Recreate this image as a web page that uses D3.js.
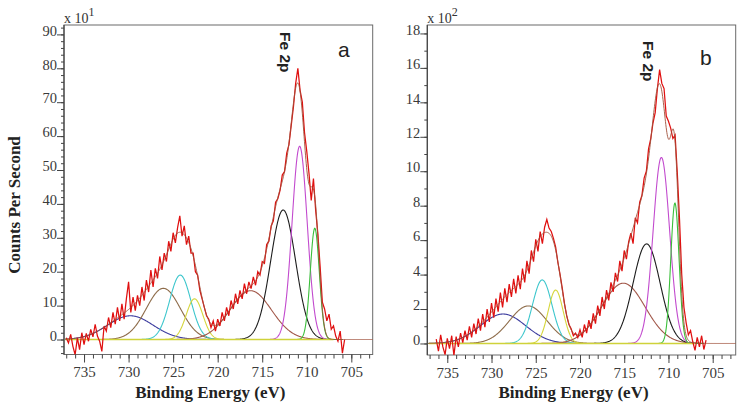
<!DOCTYPE html>
<html><head><meta charset="utf-8">
<script src="https://cdn.jsdelivr.net/npm/d3@7"></script>
<style>body{margin:0;background:#fff}</style>
</head><body>
<svg id="c" width="743" height="409" xmlns="http://www.w3.org/2000/svg"></svg>
<script>
// ---------- data ----------
const xTickLabels = [735, 730, 725, 720, 715, 710, 705];
const yTicksA = [0, 10, 20, 30, 40, 50, 60, 70, 80, 90];
const yTicksB = [0, 2, 4, 6, 8, 10, 12, 14, 16, 18];

// fitted components: blue, brown, cyan, yellow, satellite brown, black, magenta, green
const compColors = ["#3b3b9e", "#8e6c4a", "#3cc6cc", "#d6d63c", "#a2584a", "#1c1c1c", "#c24ace", "#3abf3a"];
const centersA = [729.8, 726.1, 724.2, 722.6, 716.3, 712.65, 710.8, 709.1];
const heightsA = [7.0, 15.1, 19.0, 12.0, 14.4, 38.2, 57.0, 32.8];
const fwhmA    = [6.0, 4.5, 2.8, 2.2, 5.5, 3.3, 2.0, 1.2];
const centersB = [728.7, 725.85, 724.27, 722.75, 715.1, 712.47, 710.8, 709.27];
const heightsB = [1.71, 2.18, 3.69, 3.1, 3.5, 5.78, 10.8, 8.15];
const fwhmB    = [6.0, 5.0, 2.6, 2.0, 5.8, 3.6, 2.2, 1.1];

// raw spectra (counts, in the axis multiplier units), 0.25 eV apart, starting energies below
const rawStartA = 737.0, rawStartB = 736.25, rawStep = 0.25;
const rawA = [0.5, -1.0, 1.5, -2.0, -4.5, 0.5, -3.0, 2.0, -1.5, 1.8, -0.5, 3.0, 0.8, 4.5, 1.0, -0.5, -3.5,
  4.0, 2.5, 6.5, 3.5, 8.0, 4.5, 9.5, 5.5, 10.5, 6.0, 12.0, 17.0, 8.0, 12.5, 8.5, 13.0, 10.0, 15.5, 11.5, 17.5,
  14.0, 20.5, 15.5, 21.0, 18.0, 24.5, 20.5, 25.5, 23.0, 29.0, 26.0, 31.5, 28.5, 33.0, 36.5, 30.5, 33.5, 28.0,
  30.5, 25.5, 25.5, 20.0, 19.0, 14.5, 12.0, 9.5, 7.0, 6.0, 3.5, 5.5, 2.5, 6.0, 4.0, 8.0, 5.5, 9.5, 7.0, 11.5,
  9.0, 13.5, 10.5, 14.5, 12.0, 16.5, 13.5, 17.0, 15.0, 18.5, 16.0, 20.0, 19.0, 23.0, 22.5, 28.0, 29.0, 33.5,
  35.0, 40.5, 41.5, 44.0, 48.5, 49.5, 55.0, 57.5, 63.0, 68.5, 75.5, 80.0, 73.5, 70.0, 61.0, 55.5, 49.0, 41.0,
  47.5, 38.0, 31.0, 21.5, 11.0, 9.0, 5.5, 7.5, 3.0, 4.0, 1.0, -0.5, 2.5, -4.0, 0.0];
const rawB = [0.25, -0.45, 0.5, -0.2, -0.65, 0.3, -0.3, 0.45, -0.7, 0.4, -0.2, 0.6, 0.05, 0.75, 0.2, 1.0,
  0.35, 1.15, 0.55, 1.45, 0.75, 1.7, 0.95, 2.0, 1.25, 2.35, 1.5, 2.6, 1.85, 2.95, 2.1, 3.2, 2.4, 3.45, 2.7, 3.75,
  2.9, 3.95, 3.15, 4.35, 3.55, 4.8, 4.05, 5.4, 4.75, 6.05, 5.35, 6.5, 5.8, 6.75, 7.2, 6.7, 6.5, 6.1, 5.6, 4.7, 4.0,
  3.2, 2.3, 1.6, 1.1, 0.85, 0.45, 0.6, 0.35, 0.8, 0.35, 1.1, 0.6, 1.35, 0.85, 1.75, 1.15, 2.2, 1.6, 2.7, 2.0,
  3.1, 2.5, 3.55, 3.0, 4.1, 3.6, 4.8, 4.2, 5.4, 4.9, 5.9, 6.4, 5.8, 7.3, 7.0, 8.2, 8.6, 9.6, 10.0, 11.3,
  11.9, 12.8, 13.4, 14.8, 15.9, 15.1, 14.8, 13.2, 12.9, 12.5, 11.9, 12.1, 9.9, 7.2, 4.0, 2.1, 1.2, 0.5, 0.75,
  0.1, -0.4, 0.35, -0.2, 0.45, -0.35, 0.2];

// ---------- drawing ----------
const svg = d3.select("#c");
const serif = "'Liberation Serif','Times New Roman',serif";
const sans = "'Liberation Sans',Arial,sans-serif";

function gauss(e, c, h, w) {
  const s = w / 2.3548;
  return h * Math.exp(-((e - c) * (e - c)) / (2 * s * s));
}

function panel(p) {
  const x = d3.scaleLinear().domain(p.xDom).range([p.x0, p.x1]);
  const y = d3.scaleLinear().domain(p.yDom).range([p.y1, p.y0]);
  const g = svg.append("g");
  const clipId = "clip" + p.id;
  g.append("clipPath").attr("id", clipId).append("rect")
    .attr("x", p.x0).attr("y", p.y0).attr("width", p.x1 - p.x0).attr("height", p.y1 - p.y0);

  // frame
  g.append("rect").attr("x", p.x0).attr("y", p.y0).attr("width", p.x1 - p.x0).attr("height", p.y1 - p.y0)
    .attr("fill", "none").attr("stroke", "#6a6a6a").attr("stroke-width", 1);

  const plot = g.append("g").attr("clip-path", `url(#${clipId})`);
  const line = d3.line().x(d => x(d[0])).y(d => y(d[1]));

  const gridC = d3.range(737.1, 705.99, -0.04);
  p.centers.forEach((c, i) => {
    const pts = gridC.map(e => [e, gauss(e, c, p.heights[i], p.fwhm[i])]);
    plot.append("path").attr("d", line(pts)).attr("fill", "none")
      .attr("stroke", compColors[i]).attr("stroke-width", 1.1);
  });
  // baseline
  plot.append("path").attr("d", line([[737.1, 0], [707.0, 0]])).attr("fill", "none")
    .attr("stroke", "#cfd23a").attr("stroke-width", 1.4);
  // raw data
  const rawPts = p.raw.map((v, i) => [p.rawStart - i * rawStep, v]);
  plot.append("path").attr("d", line(rawPts)).attr("fill", "none")
    .attr("stroke", "#e01010").attr("stroke-width", 1.25);
  // envelope (sum of components)
  const gridE = d3.range(737.1, p.xDom[1] - 0.05, -0.04);
  const env = gridE.map(e => [e, d3.sum(p.centers, (c, i) => gauss(e, c, p.heights[i], p.fwhm[i]))]);
  plot.append("path").attr("d", line(env)).attr("fill", "none")
    .attr("stroke", "#a0503a").attr("stroke-width", 1.0).attr("opacity", 0.9);

  // x axis
  const xMinor = d3.axisBottom(x).tickValues(d3.range(703, 738, 1)).tickSize(4).tickSizeOuter(0).tickFormat("");
  const xMajor = d3.axisBottom(x).tickValues(xTickLabels).tickSize(8).tickSizeOuter(0).tickFormat(d3.format("d"));
  const gx1 = g.append("g").attr("transform", `translate(0,${p.y1})`).call(xMinor);
  const gx2 = g.append("g").attr("transform", `translate(0,${p.y1})`).call(xMajor);
  [gx1, gx2].forEach(a => { a.select(".domain").remove(); a.selectAll("line").attr("stroke", "#444"); });
  gx2.selectAll("text").attr("font-family", serif).attr("font-size", 15).attr("fill", "#3a3a3a")
    .attr("y", 12).attr("dy", "0.71em");

  // y axis
  const yMinor = d3.axisLeft(y).tickValues(p.yMinor).tickSize(3).tickSizeOuter(0).tickFormat("");
  const yMajor = d3.axisLeft(y).tickValues(p.yTicks).tickSize(7).tickSizeOuter(0).tickFormat(d3.format("d"));
  const gy1 = g.append("g").attr("transform", `translate(${p.x0},0)`).call(yMinor);
  const gy2 = g.append("g").attr("transform", `translate(${p.x0},0)`).call(yMajor);
  [gy1, gy2].forEach(a => { a.select(".domain").remove(); a.selectAll("line").attr("stroke", "#444"); });
  gy2.selectAll("text").attr("font-family", serif).attr("font-size", 14.5).attr("fill", "#3a3a3a")
    .attr("x", -7).attr("dy", "0.05em");
  g.append("line").attr("x1", p.x0).attr("x2", p.x0).attr("y1", p.y0).attr("y2", p.y1)
    .attr("stroke", "#444").attr("stroke-width", 1.2);

  // multiplier
  const m = g.append("text").attr("x", p.x0).attr("y", p.y0 - 2.5)
    .attr("font-family", serif).attr("font-size", 14).attr("fill", "#333");
  m.append("tspan").text("x 10");
  m.append("tspan").attr("dy", -7).attr("font-size", 12).text(p.expo);

  // x title
  g.append("text").attr("x", (p.x0 + p.x1) / 2 - 8).attr("y", 398)
    .attr("text-anchor", "middle").attr("font-family", serif).attr("font-weight", "bold")
    .attr("font-size", 17).attr("fill", "#222").text("Binding Energy (eV)");

  // Fe 2p annotation
  g.append("text").attr("transform", `translate(${p.feX},${p.feY}) rotate(90)`)
    .attr("font-family", sans).attr("font-weight", "bold").attr("font-size", 15.5).attr("fill", "#222")
    .text("Fe 2p");
  // panel letter
  g.append("text").attr("x", p.letterX).attr("y", p.letterY)
    .attr("font-family", sans).attr("font-size", 21).attr("fill", "#222").text(p.letter);
}

panel({ id: "A", x0: 64, x1: 372.7, y0: 25, y1: 354.5, xDom: [737.25, 702.6], yDom: [-4.42, 92.77],
  yTicks: yTicksA, yMinor: d3.range(-4, 93, 2), centers: centersA, heights: heightsA, fwhm: fwhmA,
  raw: rawA, rawStart: rawStartA, expo: "1", feX: 280, feY: 32, letter: "a", letterX: 338, letterY: 57 });
panel({ id: "B", x0: 427.3, x1: 735.7, y0: 25, y1: 355, xDom: [737.26, 702.4], yDom: [-0.669, 18.49],
  yTicks: yTicksB, yMinor: d3.range(0, 18.5, 1), centers: centersB, heights: heightsB, fwhm: fwhmB,
  raw: rawB, rawStart: rawStartB, expo: "2", feX: 643, feY: 41, letter: "b", letterX: 700, letterY: 65 });

// y title
svg.append("text").attr("transform", "translate(20,205) rotate(-90)").attr("text-anchor", "middle")
  .attr("font-family", serif).attr("font-weight", "bold").attr("font-size", 17).attr("fill", "#222")
  .text("Counts Per Second");
</script>
</body></html>
